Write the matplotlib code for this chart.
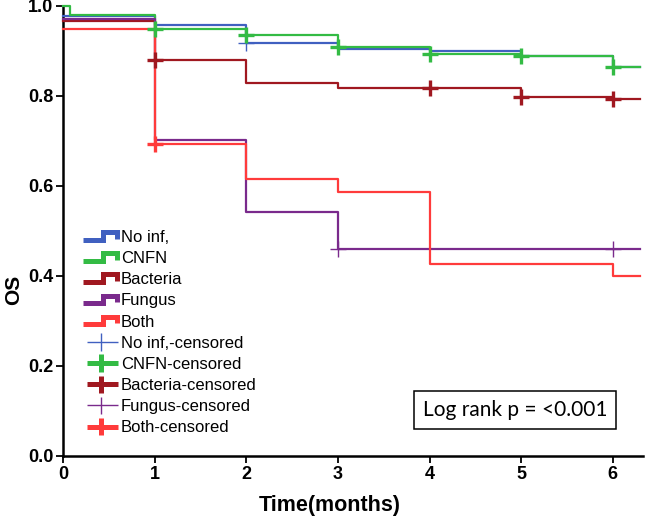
import matplotlib
matplotlib.use("Agg")
import matplotlib.pyplot as plt
from matplotlib.legend_handler import HandlerBase
from matplotlib.lines import Line2D

# ---------------- data ----------------
groups = ["No inf,", "CNFN", "Bacteria", "Fungus", "Both"]
colors = ["#4060C0", "#33BB44", "#A01820", "#7A2A8C", "#FF3B3B"]

t_end = 6.3
noinf_t = [0, 1, 2, 3, 4, 5, 6]
noinf_s = [0.977, 0.958, 0.918, 0.904, 0.900, 0.888, 0.865]
cnfn_t = [0, 0.08, 1, 2, 3, 4, 5, 6]
cnfn_s = [1.0, 0.981, 0.950, 0.936, 0.908, 0.893, 0.888, 0.865]
bact_t = [0, 1, 2, 3, 5, 6]
bact_s = [0.966, 0.880, 0.830, 0.817, 0.798, 0.793]
fung_t = [0, 1, 2, 3]
fung_s = [0.971, 0.703, 0.542, 0.460]
both_t = [0, 1, 2, 3, 4, 6]
both_s = [0.950, 0.693, 0.615, 0.587, 0.427, 0.400]

# censoring marks (time, survival)
noinf_c_t = [2]
noinf_c_s = [0.918]
cnfn_c_t = [1, 2, 3, 4, 5, 6]
cnfn_c_s = [0.950, 0.936, 0.908, 0.893, 0.888, 0.865]
bact_c_t = [1, 4, 5, 6]
bact_c_s = [0.880, 0.817, 0.798, 0.793]
fung_c_t = [3, 6]
fung_c_s = [0.460, 0.460]
both_c_t = [1]
both_c_s = [0.693]

x_ticks = [0, 1, 2, 3, 4, 5, 6]
y_ticks = [0.0, 0.2, 0.4, 0.6, 0.8, 1.0]
y_ticklabels = ["0.0", "0.2", "0.4", "0.6", "0.8", "1.0"]
p_text = "Log rank p = <0.001"

curves = [(noinf_t, noinf_s), (cnfn_t, cnfn_s), (bact_t, bact_s),
          (fung_t, fung_s), (both_t, both_s)]
cens = [(noinf_c_t, noinf_c_s), (cnfn_c_t, cnfn_c_s), (bact_c_t, bact_c_s),
        (fung_c_t, fung_c_s), (both_c_t, both_c_s)]
thick = [False, True, True, False, True]

# ---------------- figure ----------------
W, H = 646, 521
fig = plt.figure(figsize=(W / 100, H / 100), dpi=100)
ax = fig.add_axes([63 / W, 1 - 456 / H, (643 - 63) / W, (456 - 6) / H])

for (t, s), c in zip(curves, colors):
    ax.step(list(t) + [t_end], list(s) + [s[-1]], where="post", color=c,
            lw=1.6, clip_on=False, zorder=3)

for (t, s), c, th in zip(cens, colors, thick):
    ax.plot(t, s, ls="none", marker="+", color=c,
            ms=11, mew=2.4 if th else 1.0, zorder=4, clip_on=False)

ax.set_xlim(0, 6.33)
ax.set_ylim(0, 1.0)
ax.set_xticks(x_ticks)
ax.set_yticks(y_ticks)
ax.set_yticklabels(y_ticklabels)
for sp in ["top", "right"]:
    ax.spines[sp].set_visible(False)
for sp in ["left", "bottom"]:
    ax.spines[sp].set_linewidth(1.8)
ax.tick_params(direction="out", length=5, width=1.3, pad=2,
               labelsize=13)
for lab in ax.get_xticklabels() + ax.get_yticklabels():
    lab.set_fontfamily("Liberation Sans")
    lab.set_fontweight("bold")

fig.text(330 / W, 1 - 505 / H, "Time(months)", ha="center", va="center",
         fontsize=15.5, fontweight="bold", family="Liberation Sans")
fig.text(14 / W, 1 - 290 / H, "OS", ha="center", va="center", rotation=90,
         fontsize=15, fontweight="bold", family="Liberation Sans")

ax.text(0.779, 0.102, p_text, transform=ax.transAxes, ha="center", va="center",
        fontsize=15, family="Lato",
        bbox=dict(boxstyle="square,pad=0.42", fc="white", ec="black", lw=1.1))


# ---------------- legend ----------------
class StepHandler(HandlerBase):
    def __init__(self, color):
        super().__init__()
        self.color = color

    def create_artists(self, legend, orig, xd, yd, width, height, fontsize, trans):
        x0, x1 = -xd, -xd + width
        y0, y1 = -yd, -yd + height
        xa = x0 + 0.58 * (x1 - x0)
        xb = x0 + 0.97 * (x1 - x0)
        ys_lo = y0 + 0.2 * (y1 - y0)
        ys_hi = y0 + 0.85 * (y1 - y0)
        xs = [x0, xa, xa, xb, xb]
        ys = [ys_lo, ys_lo, ys_hi, ys_hi, y0 + 0.3 * (y1 - y0)]
        ln = Line2D(xs, ys, color=self.color, lw=3.6, solid_joinstyle="miter",
                    solid_capstyle="butt", transform=trans)
        return [ln]


class CensHandler(HandlerBase):
    def __init__(self, color, th):
        super().__init__()
        self.color = color
        self.th = th

    def create_artists(self, legend, orig, xd, yd, width, height, fontsize, trans):
        x0, x1 = -xd, -xd + width
        yc = -yd + height / 2
        xm = (x0 + x1) / 2
        lw = 3.6 if self.th else 1.0
        l1 = Line2D([x0 + 0.1 * width, x1], [yc, yc], color=self.color, lw=lw,
                    solid_capstyle="butt", transform=trans)
        l2 = Line2D([xm, xm], [yc - 0.75 * height, yc + 0.75 * height], color=self.color,
                    lw=lw, solid_capstyle="butt", transform=trans)
        return [l1, l2]


handles, labels, hmap = [], [], {}
for g, c in zip(groups, colors):
    h = Line2D([], [], color=c)
    handles.append(h)
    labels.append(g)
    hmap[h] = StepHandler(c)
for g, c, th in zip(groups, colors, thick):
    h = Line2D([], [], color=c, marker="+")
    handles.append(h)
    labels.append(g + "-censored")
    hmap[h] = CensHandler(c, th)

leg = fig.legend(handles, labels, handler_map=hmap, loc="upper left",
                 bbox_to_anchor=(83 / W, 1 - 230 / H), frameon=False,
                 borderpad=0, borderaxespad=0, handlelength=2.1, handleheight=0.7,
                 handletextpad=0.18, labelspacing=0.37,
                 prop={"family": "Liberation Sans", "size": 12})

fig.savefig("out.png", dpi=100)
